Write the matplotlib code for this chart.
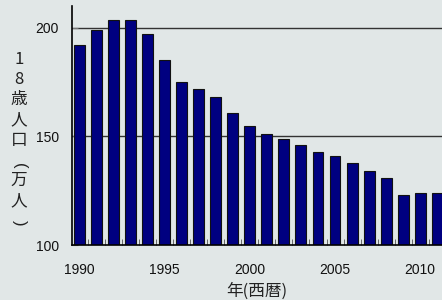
import numpy as np
import matplotlib
matplotlib.use("Agg")
import matplotlib.pyplot as plt

plt.rcParams['font.family'] = ['Liberation Sans', 'Noto Sans CJK JP', 'DejaVu Sans']

years = list(range(1990, 2012))
pop = [192, 199, 203.5, 203.5, 197, 185, 175, 172, 168, 161,
       155, 151, 149, 146, 143, 141, 138, 134, 131, 123, 124, 124]
xticks = [1990, 1995, 2000, 2005, 2010]
yticks = [100, 150, 200]
ylabel_chars = ['1', '8', '歳', '人', '口', '(', '万', '人', ')']

bg = '#e1e7e7'
fig = plt.figure(figsize=(4.42, 3.0), dpi=100, facecolor=bg)
ax = fig.add_axes([0.162, 0.183, 0.84, 0.797], facecolor=bg)

ax.bar(years, pop, width=0.64, color='#000080', edgecolor='#111111',
       linewidth=0.8, zorder=3)

ax.set_ylim(100, 210)
ax.set_xlim(1989.54, 2011.33)
ax.set_yticks(yticks)
ax.set_xticks(xticks)
ax.set_xticks(np.arange(1990.5, 2011, 1), minor=True)
for y in [150, 200]:
    ax.axhline(y, color='#333333', lw=1, zorder=1)

for s in ['top', 'right']:
    ax.spines[s].set_visible(False)
ax.spines['left'].set_linewidth(1.2)
ax.spines['bottom'].set_linewidth(1.2)
ax.spines['bottom'].set_zorder(4)

ax.tick_params(axis='x', which='major', length=0, pad=13, labelsize=10, colors='#111111')
ax.tick_params(axis='x', which='minor', direction='in', length=4, color='#555555')
ax.tick_params(axis='y', which='major', direction='in', length=4, pad=9,
               labelsize=10, color='#777777', labelcolor='#111111')

ax.set_xlabel('年(西暦)', fontsize=12, family=['Noto Sans CJK JP'], labelpad=4, color='#222222')

# vertical y label, one character per line; brackets turned to vertical form
for i, ch in enumerate(ylabel_chars):
    ypix = 59 + i * 20.3
    rot = 0
    fam = ['Noto Sans CJK JP']
    if ch == '(':
        rot, ypix, fam = -90, ypix + 5, ['Liberation Sans']
    elif ch == ')':
        rot, ypix, fam = -90, ypix + 1, ['Liberation Sans']
    fig.text(0.043, 1 - ypix / 300, ch, ha='center', va='center', rotation=rot,
             fontsize=12, family=fam, color='#222222')

fig.savefig('out.png', dpi=100, facecolor=bg)
